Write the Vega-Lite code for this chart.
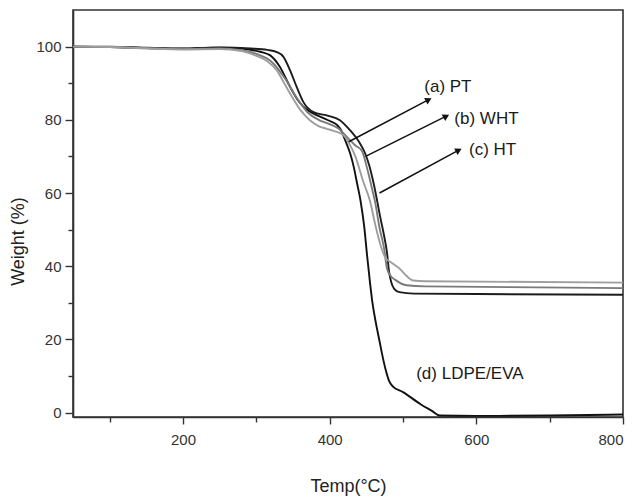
{
  "$schema": "https://vega.github.io/schema/vega-lite/v6.json",
  "width": 550,
  "height": 407,
  "autosize": "none",
  "padding": {"left": 73, "top": 10, "right": 14, "bottom": 81},
  "background": "white",
  "config": {
    "view": {"stroke": "#333333", "strokeWidth": 1.6},
    "font": "Liberation Sans",
    "axis": {"labelFont": "Liberation Sans", "titleFont": "Liberation Sans", "labelColor": "#333333", "titleColor": "#222222", "domainColor": "#333333", "tickColor": "#333333", "domainWidth": 1.6, "tickWidth": 1.4, "grid": false}
  },
  "datasets": {
    "curves": [
      {"s":"LDPE/EVA","t":50,"w":100},{"s":"LDPE/EVA","t":100,"w":99.9},{"s":"LDPE/EVA","t":150,"w":99.6},{"s":"LDPE/EVA","t":200,"w":99.4},{"s":"LDPE/EVA","t":240,"w":99.7},{"s":"LDPE/EVA","t":270,"w":99.6},{"s":"LDPE/EVA","t":290,"w":99.2},{"s":"LDPE/EVA","t":305,"w":98.6},{"s":"LDPE/EVA","t":319,"w":97.6},{"s":"LDPE/EVA","t":332,"w":94.5},{"s":"LDPE/EVA","t":346,"w":89},{"s":"LDPE/EVA","t":358,"w":85},{"s":"LDPE/EVA","t":370,"w":82.6},{"s":"LDPE/EVA","t":378,"w":81.7},{"s":"LDPE/EVA","t":390,"w":80.6},{"s":"LDPE/EVA","t":401,"w":79.6},{"s":"LDPE/EVA","t":410,"w":78.6},{"s":"LDPE/EVA","t":416,"w":77},{"s":"LDPE/EVA","t":421,"w":74.5},{"s":"LDPE/EVA","t":428,"w":70.8},{"s":"LDPE/EVA","t":433,"w":67},{"s":"LDPE/EVA","t":437,"w":63},{"s":"LDPE/EVA","t":442,"w":58},{"s":"LDPE/EVA","t":447,"w":51},{"s":"LDPE/EVA","t":451,"w":43},{"s":"LDPE/EVA","t":455,"w":35.5},{"s":"LDPE/EVA","t":458,"w":30.5},{"s":"LDPE/EVA","t":463,"w":24.5},{"s":"LDPE/EVA","t":468,"w":19.5},{"s":"LDPE/EVA","t":472,"w":15.5},{"s":"LDPE/EVA","t":476,"w":12},{"s":"LDPE/EVA","t":481,"w":8.7},{"s":"LDPE/EVA","t":486,"w":7.2},{"s":"LDPE/EVA","t":500,"w":5.6},{"s":"LDPE/EVA","t":524,"w":2.3},{"s":"LDPE/EVA","t":540,"w":0.4},{"s":"LDPE/EVA","t":550,"w":-0.8},{"s":"LDPE/EVA","t":600,"w":-0.9},{"s":"LDPE/EVA","t":700,"w":-0.8},{"s":"LDPE/EVA","t":800,"w":-0.5},
      {"s":"PT","t":50,"w":100},{"s":"PT","t":100,"w":100},{"s":"PT","t":150,"w":99.7},{"s":"PT","t":200,"w":99.5},{"s":"PT","t":250,"w":99.8},{"s":"PT","t":292,"w":99.5},{"s":"PT","t":315,"w":99.1},{"s":"PT","t":328,"w":98.5},{"s":"PT","t":337,"w":97.2},{"s":"PT","t":346,"w":93.5},{"s":"PT","t":355,"w":89},{"s":"PT","t":364,"w":84.9},{"s":"PT","t":378,"w":82.1},{"s":"PT","t":396,"w":81.2},{"s":"PT","t":414,"w":79.9},{"s":"PT","t":428,"w":77.1},{"s":"PT","t":440,"w":74},{"s":"PT","t":448,"w":71},{"s":"PT","t":454,"w":67.5},{"s":"PT","t":460,"w":62.6},{"s":"PT","t":469,"w":53.4},{"s":"PT","t":475,"w":47.5},{"s":"PT","t":478,"w":44},{"s":"PT","t":481,"w":38.5},{"s":"PT","t":484,"w":35.6},{"s":"PT","t":488,"w":33.8},{"s":"PT","t":495,"w":32.9},{"s":"PT","t":515,"w":32.5},{"s":"PT","t":600,"w":32.4},{"s":"PT","t":800,"w":32.2},
      {"s":"WHT","t":50,"w":100},{"s":"WHT","t":100,"w":99.9},{"s":"WHT","t":150,"w":99.6},{"s":"WHT","t":200,"w":99.3},{"s":"WHT","t":250,"w":99.5},{"s":"WHT","t":280,"w":99},{"s":"WHT","t":300,"w":98},{"s":"WHT","t":320,"w":96},{"s":"WHT","t":340,"w":91},{"s":"WHT","t":355,"w":86},{"s":"WHT","t":370,"w":82},{"s":"WHT","t":385,"w":80},{"s":"WHT","t":400,"w":78.8},{"s":"WHT","t":412,"w":77.6},{"s":"WHT","t":425,"w":75},{"s":"WHT","t":435,"w":73},{"s":"WHT","t":444,"w":71.5},{"s":"WHT","t":452,"w":66},{"s":"WHT","t":458,"w":61},{"s":"WHT","t":462,"w":57.5},{"s":"WHT","t":468,"w":50.5},{"s":"WHT","t":474.6,"w":44.4},{"s":"WHT","t":478,"w":39.5},{"s":"WHT","t":483,"w":37.4},{"s":"WHT","t":490,"w":36.2},{"s":"WHT","t":505,"w":34.8},{"s":"WHT","t":530,"w":34.5},{"s":"WHT","t":800,"w":34.0},
      {"s":"HT","t":50,"w":100},{"s":"HT","t":100,"w":99.9},{"s":"HT","t":150,"w":99.5},{"s":"HT","t":200,"w":99.2},{"s":"HT","t":250,"w":99.3},{"s":"HT","t":280,"w":98.8},{"s":"HT","t":300,"w":97.5},{"s":"HT","t":315,"w":96},{"s":"HT","t":328,"w":93.5},{"s":"HT","t":338,"w":90},{"s":"HT","t":348,"w":86.5},{"s":"HT","t":360,"w":82.7},{"s":"HT","t":373,"w":79.9},{"s":"HT","t":385,"w":78.3},{"s":"HT","t":395,"w":77.6},{"s":"HT","t":405,"w":77},{"s":"HT","t":419,"w":75.8},{"s":"HT","t":428,"w":73},{"s":"HT","t":435,"w":70},{"s":"HT","t":446,"w":63},{"s":"HT","t":455,"w":57.8},{"s":"HT","t":462,"w":51.5},{"s":"HT","t":469,"w":46},{"s":"HT","t":476,"w":42.3},{"s":"HT","t":484,"w":41},{"s":"HT","t":496,"w":39.2},{"s":"HT","t":505,"w":37.3},{"s":"HT","t":514,"w":36.1},{"s":"HT","t":530,"w":35.9},{"s":"HT","t":800,"w":35.5}
    ],
    "arrows": [
      {"k":"a","x1":426,"y1":74,"x2":535,"y2":85.5},
      {"k":"b","x1":449,"y1":70,"x2":559,"y2":81},
      {"k":"c","x1":468,"y1":60,"x2":576,"y2":71.7}
    ],
    "labels": [
      {"x":529,"y":88.9,"label":"(a) PT"},
      {"x":570,"y":80.1,"label":"(b) WHT"},
      {"x":590,"y":71.7,"label":"(c) HT"},
      {"x":518,"y":10.5,"label":"(d) LDPE/EVA"}
    ]
  },
  "layer": [
    {
      "data": {"name": "curves"},
      "mark": {"type": "line", "interpolate": "monotone", "strokeWidth": 1.9, "clip": true},
      "encoding": {
        "x": {"field": "t", "type": "quantitative", "scale": {"domain": [50, 800], "nice": false, "zero": false},
          "axis": {"orient": "bottom", "values": [100, 200, 300, 400, 500, 600, 700, 800], "labelExpr": "datum.value % 200 === 0 ? datum.label : ''", "title": "Temp(°C)", "titleFontSize": 18, "titleFontWeight": "normal", "labelFontSize": 15, "tickSize": {"condition": {"test": "datum.value % 200 === 0", "value": 7}, "value": 5}, "labelPadding": 8, "titlePadding": 30}},
        "y": {"field": "w", "type": "quantitative", "scale": {"domain": [-1.2, 110], "nice": false, "zero": false},
          "axis": {"orient": "left", "values": [0, 10, 20, 30, 40, 50, 60, 70, 80, 90, 100], "labelExpr": "datum.value % 20 === 0 ? datum.label : ''", "title": "Weight (%)", "titleFontSize": 18, "titleFontWeight": "normal", "labelFontSize": 15, "tickSize": {"condition": {"test": "datum.value % 20 === 0", "value": 8}, "value": 5}, "labelPadding": 4, "titlePadding": 8, "titleY": 231}},
        "color": {"field": "s", "type": "nominal", "legend": null,
          "scale": {"domain": ["LDPE/EVA", "PT", "WHT", "HT"], "range": ["#111111", "#1c1c1c", "#7a7a7a", "#9e9e9e"]}},
        "order": {"field": "t", "type": "quantitative"}
      }
    },
    {
      "data": {"name": "arrows"},
      "mark": {"type": "rule", "color": "#111111", "strokeWidth": 1.5},
      "encoding": {
        "x": {"field": "x1", "type": "quantitative"},
        "y": {"field": "y1", "type": "quantitative"},
        "x2": {"field": "x2"},
        "y2": {"field": "y2"}
      }
    },
    {
      "data": {"name": "arrows"},
      "mark": {"type": "point", "shape": "triangle-right", "filled": true, "color": "#111111", "size": 55, "angle": -28, "opacity": 1},
      "encoding": {
        "x": {"field": "x2", "type": "quantitative"},
        "y": {"field": "y2", "type": "quantitative"}
      }
    },
    {
      "data": {"name": "labels"},
      "mark": {"type": "text", "align": "left", "baseline": "middle", "fontSize": 17, "font": "Liberation Sans", "color": "#1a1a1a"},
      "encoding": {
        "x": {"field": "x", "type": "quantitative"},
        "y": {"field": "y", "type": "quantitative"},
        "text": {"field": "label"}
      }
    }
  ]
}
